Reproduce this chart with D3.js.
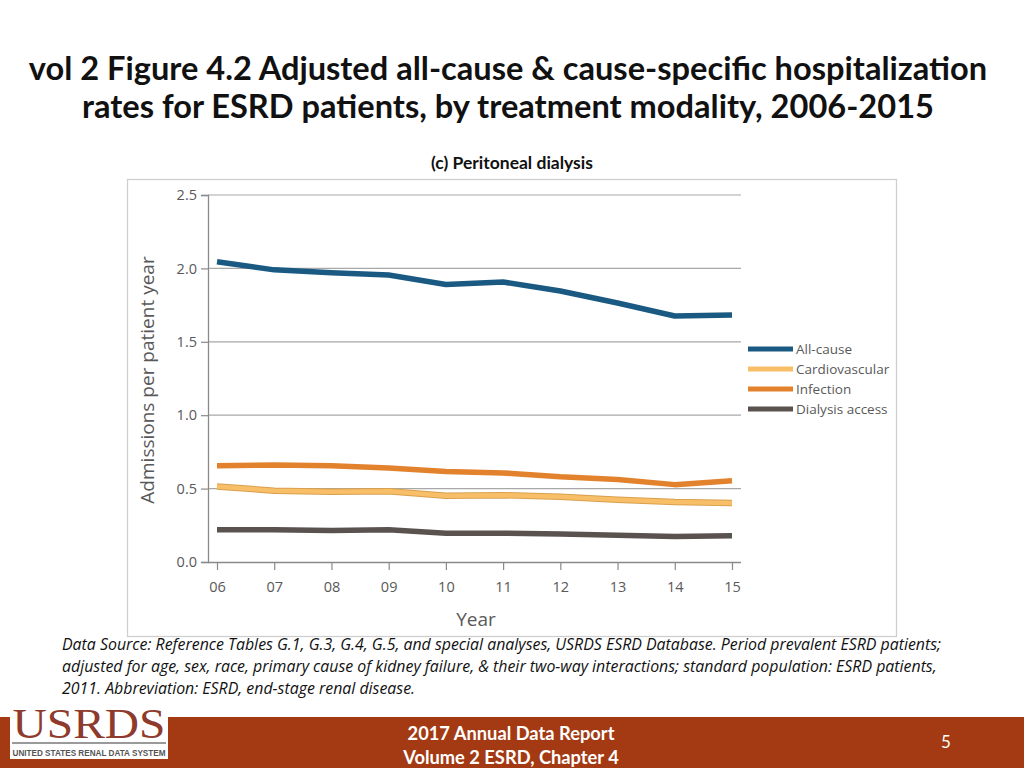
<!DOCTYPE html>
<html><head><meta charset="utf-8">
<script src="https://cdn.jsdelivr.net/npm/d3@7"></script>
<style>body{margin:0;background:#fff;}svg{display:block;}</style>
</head><body>
<script>
const years = ["06","07","08","09","10","11","12","13","14","15"];
const seriesNames = ["All-cause","Cardiovascular","Infection","Dialysis access"];
const allCause = [2.045,1.99,1.97,1.955,1.89,1.907,1.846,1.764,1.676,1.683];
const cardiovascular = [0.515,0.486,0.479,0.482,0.452,0.455,0.445,0.424,0.408,0.402];
const infection = [0.655,0.66,0.656,0.64,0.616,0.607,0.58,0.562,0.527,0.553];
const dialysisAccess = [0.22,0.22,0.215,0.219,0.196,0.196,0.19,0.182,0.174,0.178];
const yTicks = [0,0.5,1.0,1.5,2.0,2.5];
const colors = ["#1a5a82","#f8bf68","#e2822c","#5a524f"];
const seriesValues = [allCause,cardiovascular,infection,dialysisAccess];

const W=1024,H=768;
const svg=d3.select("body").append("svg").attr("width",W).attr("height",H);
const font="'Open Sans', sans-serif";

// Title
svg.append("text").attr("x",508).attr("y",80).attr("text-anchor","middle")
  .attr("font-family","Lato, sans-serif").attr("font-weight","bold").attr("font-size",32.6).attr("fill","#111")
  .text("vol 2 Figure 4.2 Adjusted all-cause & cause-specific hospitalization");
svg.append("text").attr("x",508).attr("y",118).attr("text-anchor","middle")
  .attr("font-family","Lato, sans-serif").attr("font-weight","bold").attr("font-size",32.6).attr("fill","#111")
  .text("rates for ESRD patients, by treatment modality, 2006-2015");
svg.append("text").attr("x",512).attr("y",169).attr("text-anchor","middle")
  .attr("font-family","Lato, sans-serif").attr("font-weight","bold").attr("font-size",17.5).attr("fill","#111")
  .text("(c) Peritoneal dialysis");

// Chart frame
svg.append("rect").attr("x",127.5).attr("y",179.5).attr("width",769).attr("height",457)
  .attr("fill","none").attr("stroke","#cfcfcf").attr("stroke-width",1.3);

const x=d3.scalePoint().domain(years).range([217,732]);
const y=d3.scaleLinear().domain([0,2.5]).range([562,195]);

// gridlines
svg.append("g").selectAll("line").data(yTicks.slice(1)).join("line")
  .attr("x1",208).attr("x2",741).attr("y1",d=>y(d)).attr("y2",d=>y(d))
  .attr("stroke","#a8a8a8").attr("stroke-width",1.2);

// y axis
const yAxis=svg.append("g").attr("transform","translate(208,0)")
  .call(d3.axisLeft(y).tickValues(yTicks).tickFormat(d3.format(".1f")).tickSize(7).tickPadding(4));
yAxis.select(".domain").attr("stroke","#8a8a8a").attr("stroke-width",1.3).attr("d","M-7,195.5H0.5V562.5H-7");
yAxis.selectAll(".tick line").attr("stroke","#8a8a8a").attr("stroke-width",1.2);
yAxis.selectAll("text").attr("font-family",font).attr("font-size",14.5).attr("fill","#595959");

// x axis
const xAxis=svg.append("g").attr("transform","translate(0,562)")
  .call(d3.axisBottom(x).tickSize(8).tickPadding(12));
xAxis.select(".domain").attr("stroke","#8a8a8a").attr("stroke-width",1.3).attr("d","M208,0.5H741");
xAxis.selectAll(".tick line").attr("stroke","#8a8a8a").attr("stroke-width",1.2);
xAxis.selectAll("text").attr("font-family",font).attr("font-size",14.5).attr("fill","#595959");

// axis titles
svg.append("text").attr("transform","translate(154,380) rotate(-90)").attr("text-anchor","middle")
  .attr("font-family",font).attr("font-size",19).attr("fill","#595959").text("Admissions per patient year");
svg.append("text").attr("x",476).attr("y",626).attr("text-anchor","middle")
  .attr("font-family",font).attr("font-size",19).attr("fill","#595959").text("Year");

// lines
const line=d3.line().x((d,i)=>x(years[i])).y(d=>y(d));
const order=[0,2,1,3];
order.forEach(k=>{
  if(k===1){
    svg.append("path").datum(seriesValues[k]).attr("d",line).attr("fill","none")
      .attr("stroke","#d9a04e").attr("stroke-width",6.5).attr("stroke-linejoin","round");
    svg.append("path").datum(seriesValues[k]).attr("d",line).attr("fill","none")
      .attr("stroke",colors[k]).attr("stroke-width",4.5).attr("stroke-linejoin","round");
  } else {
    svg.append("path").datum(seriesValues[k]).attr("d",line).attr("fill","none")
      .attr("stroke",colors[k]).attr("stroke-width",5.5).attr("stroke-linejoin","round");
  }
});

// legend
const lg=svg.append("g");
seriesNames.forEach((n,i)=>{
  const yy=349+i*20;
  lg.append("line").attr("x1",748).attr("x2",793).attr("y1",yy).attr("y2",yy)
    .attr("stroke",colors[i]).attr("stroke-width",5);
  lg.append("text").attr("x",796).attr("y",yy+5).attr("font-family",font).attr("font-size",13.5)
    .attr("fill","#595959").text(n);
});

// source text
const src=["Data Source: Reference Tables G.1, G.3, G.4, G.5, and special analyses, USRDS ESRD Database. Period prevalent ESRD patients;",
"adjusted for age, sex, race, primary cause of kidney failure, & their two-way interactions; standard population: ESRD patients,",
"2011. Abbreviation: ESRD, end-stage renal disease."];
src.forEach((t,i)=>svg.append("text").attr("x",62).attr("y",650+i*22).attr("font-family",font)
  .attr("font-style","italic").attr("font-size",15.9).attr("fill","#111").text(t));

// footer
svg.append("rect").attr("x",0).attr("y",717).attr("width",W).attr("height",51).attr("fill","#a33a13");
svg.append("text").attr("x",511).attr("y",740).attr("text-anchor","middle").attr("font-family","Lato, sans-serif")
  .attr("font-weight","bold").attr("font-size",18.3).attr("fill","#fff").text("2017 Annual Data Report");
svg.append("text").attr("x",511).attr("y",764).attr("text-anchor","middle").attr("font-family","Lato, sans-serif")
  .attr("font-weight","bold").attr("font-size",18.3).attr("fill","#fff").text("Volume 2 ESRD, Chapter 4");
svg.append("text").attr("x",946).attr("y",748).attr("text-anchor","middle").attr("font-family","Lato, sans-serif")
  .attr("font-size",17).attr("fill","#fff").text("5");

// logo
svg.append("rect").attr("x",10).attr("y",701).attr("width",158).attr("height",58).attr("fill","#fff");
svg.append("text").attr("x",89).attr("y",738).attr("text-anchor","middle").attr("font-family","'Liberation Serif', serif")
  .attr("font-size",43).attr("fill","#8e3a2c").attr("textLength",153).attr("lengthAdjust","spacingAndGlyphs").text("USRDS");
svg.append("line").attr("x1",12).attr("x2",166).attr("y1",743).attr("y2",743).attr("stroke","#9a9a9a").attr("stroke-width",2);
svg.append("text").attr("x",89).attr("y",756).attr("text-anchor","middle").attr("font-family","'Liberation Sans Narrow', 'Liberation Sans', sans-serif")
  .attr("font-weight","bold").attr("font-size",8.5).attr("fill","#555").attr("textLength",153).attr("lengthAdjust","spacingAndGlyphs")
  .text("UNITED STATES RENAL DATA SYSTEM");
</script>
</body></html>
